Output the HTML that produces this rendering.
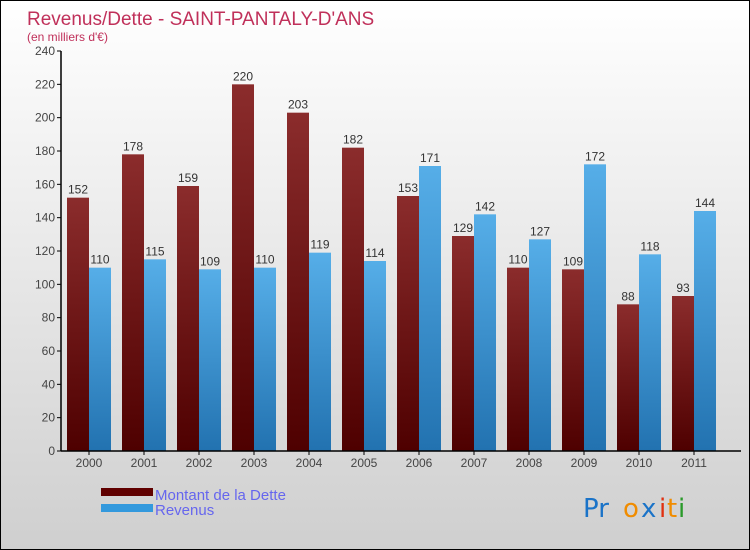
<!DOCTYPE html>
<html><head><meta charset="utf-8"><style>
body{margin:0}
#c{width:748px;height:548px;border:1px solid #000;background:linear-gradient(#fff,#cfcfcf);position:relative;font-family:"Liberation Sans",sans-serif}
</style></head><body>
<div id="c">
<svg id="s" width="748" height="548" style="position:absolute;left:0;top:0">
<defs>
<linearGradient id="gd" x1="0" y1="0" x2="0" y2="1"><stop offset="0" stop-color="#8b2c2c"/><stop offset="1" stop-color="#4e0000"/></linearGradient>
<linearGradient id="gr" x1="0" y1="0" x2="0" y2="1"><stop offset="0" stop-color="#56aee8"/><stop offset="1" stop-color="#2272b0"/></linearGradient>
</defs>
<text x="26" y="24" font-size="19" fill="#c0305a">Revenus/Dette - SAINT-PANTALY-D'ANS</text>
<text x="26" y="40" font-size="12" fill="#c0305a">(en milliers d'€)</text>
<g id="plot"></g>
<rect x="100" y="487" width="52" height="8" fill="#600000"/>
<text x="154" y="499" font-size="15" fill="#6666ee">Montant de la Dette</text>
<rect x="100" y="503" width="52" height="8" fill="#3399dd"/>
<text x="154" y="514" font-size="15" fill="#6666ee">Revenus</text>
<g font-size="26" font-family="'DejaVu Sans',sans-serif">
<text x="582" y="516" fill="#1a73c8">Pr</text><text x="622" y="516" fill="#f08c00">o</text><text x="640" y="516" fill="#1a73c8">x</text><text x="658" y="516" fill="#e03010">i</text><text x="666" y="516" fill="#f08c00">t</text><text x="677" y="516" fill="#2a9a2a">i</text>
</g>
</svg>
</div>
<script>
const years=["2000","2001","2002","2003","2004","2005","2006","2007","2008","2009","2010","2011"];
const dette=[152,178,159,220,203,182,153,129,110,109,88,93];
const revenus=[110,115,109,110,119,114,171,142,127,172,118,144];
const yTicks=[0,20,40,60,80,100,120,140,160,180,200,220,240];
const NS="http://www.w3.org/2000/svg";
const g=document.getElementById('plot');
const y=v=>450-v*400/240;
const xc=i=>88+i*55;
function el(t,a,txt){const e=document.createElementNS(NS,t);for(const k in a)e.setAttribute(k,a[k]);if(txt!=null)e.textContent=txt;g.appendChild(e);return e;}
yTicks.forEach(v=>{
 const l=el('line',{x1:56,x2:60,y1:y(v),y2:y(v),stroke:'#000'});
 
 
 const t=el('text',{x:54,y:y(v)+4,'text-anchor':'end','font-size':12,fill:'#444'},v);
 
 
});
years.forEach((yr,i)=>{
 const c=xc(i);
 const b1=el('rect',{x:c-22,y:y(dette[i]),width:22,height:450-y(dette[i]),fill:'url(#gd)'});
 
 
 const b2=el('rect',{x:c,y:y(revenus[i]),width:22,height:450-y(revenus[i]),fill:'url(#gr)'});
 
 
 const t1=el('text',{x:c-11,y:y(dette[i])-4,'text-anchor':'middle','font-size':12,fill:'#333'},dette[i]);
 
 
 const t2=el('text',{x:c+11,y:y(revenus[i])-4,'text-anchor':'middle','font-size':12,fill:'#333'},revenus[i]);
 
 
 const tk=el('line',{x1:c,x2:c,y1:450,y2:454,stroke:'#000'});
 
 
 const xl=el('text',{x:c,y:466,'text-anchor':'middle','font-size':12,fill:'#444'},yr);
 
 
});
const ya=el('line',{x1:60,x2:60,y1:50,y2:450,stroke:'#000','stroke-width':1.5});


const xa=el('line',{x1:60,x2:740,y1:450,y2:450,stroke:'#000','stroke-width':1.5});


</script>
</body></html>
